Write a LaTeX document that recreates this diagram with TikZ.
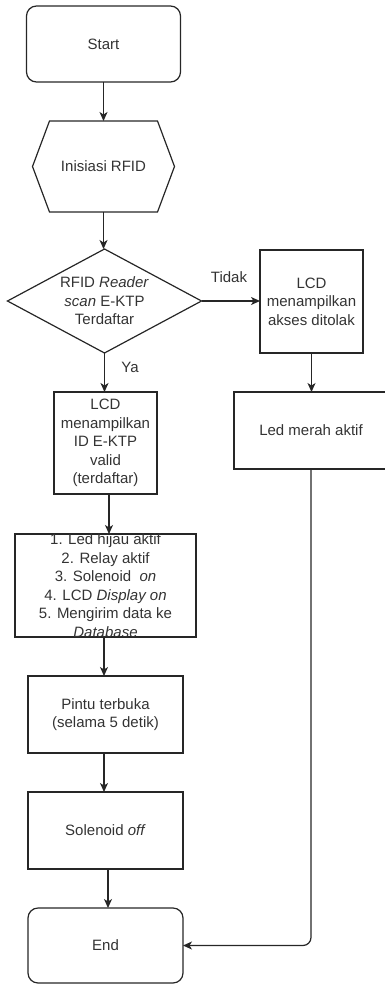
\documentclass[tikz,border=0pt]{standalone}
\usepackage{fontspec}
\setmainfont{Liberation Sans}
\usetikzlibrary{arrows.meta,calc}
\definecolor{ink}{HTML}{262626}
\definecolor{txt}{HTML}{333333}
\tikzset{
  base/.style={inner sep=0pt, outer sep=0pt, align=center, text=txt,
    font=\fontsize{15}{18.5}\selectfont},
  procbox/.style={base, draw=ink, line width=1.2pt, rectangle},
  termbox/.style={procbox, rounded corners=10pt},
  shapeholder/.style={base, draw=none, rectangle},
  outline/.style={draw=ink, line width=1.2pt, line join=miter},
  arr/.style={draw=ink, line width=1.2pt, -{Stealth[length=9pt,width=8pt,inset=2.5pt]}},
  lbl/.style={base}
}
\begin{document}
\begin{tikzpicture}[x=1pt,y=-1pt]
\useasboundingbox (0,0) rectangle (385,984);

% terminator and preparation
\node[termbox, minimum width=154pt, minimum height=76pt] (start) at (103.5,44) {Start};
\node[shapeholder, minimum width=142pt, minimum height=91pt] (init) at (103.5,166.5) {Inisiasi RFID};
\draw[outline] (init.west) -- ($(init.north west)+(17,0)$) -- ($(init.north east)+(-17,0)$)
  -- (init.east) -- ($(init.south east)+(-17,0)$) -- ($(init.south west)+(17,0)$) -- cycle;

% decision
\node[shapeholder, minimum width=194pt, minimum height=104pt] (dec) at (104.5,301)
  {RFID \textit{Reader}\\\textit{scan} E-KTP\\Terdaftar};
\draw[outline] (dec.north) -- (dec.east) -- (dec.south) -- (dec.west) -- cycle;

% rejected branch
\node[procbox, minimum width=103pt, minimum height=103pt] (tolak) at (311.5,301.5)
  {LCD\\menampilkan\\akses ditolak};
\node[procbox, minimum width=154pt, minimum height=77pt] (merah) at (311,430.5) {Led merah aktif};

% accepted branch
\node[procbox, minimum width=103pt, minimum height=102pt] (valid) at (105.5,443)
  {LCD\\menampilkan\\ID E-KTP\\valid\\(terdaftar)};
\node[procbox, minimum width=181pt, minimum height=103pt] (list) at (105.5,585.5) {};
\node[base] at (list.center) {1. Led hijau aktif\\2. Relay aktif\\3. Solenoid\ \ \textit{on}\\4. LCD \textit{Display on}\\5. Mengirim data ke\\\textit{Database}};
\node[procbox, minimum width=155pt, minimum height=77pt] (pintu) at (105.5,714.5)
  {Pintu terbuka\\(selama 5 detik)};
\node[procbox, minimum width=155pt, minimum height=77pt] (sol) at (105.5,830.5) {Solenoid \textit{off}};
\node[termbox, minimum width=155pt, minimum height=75pt] (end) at (105.5,945.5) {End};

% connectors
\draw[arr] (start.south) -- (start.south |- init.north);
\draw[arr] (init.south) -- (init.south |- dec.north);
\draw[arr] (dec.east) -- (dec.east -| tolak.west);
\draw[arr] (dec.south) -- (dec.south |- valid.north);
\draw[arr] (tolak.south) -- (tolak.south |- merah.north);
\draw[arr] ([xshift=3.5pt]valid.south) -- ([xshift=3.5pt]valid.south |- list.north);
\draw[arr] ([xshift=-1.5pt]list.south) -- ([xshift=-1.5pt]list.south |- pintu.north);
\draw[arr] ([xshift=-1.5pt]pintu.south) -- ([xshift=-1.5pt]pintu.south |- sol.north);
\draw[arr] ([xshift=2.5pt]sol.south) -- ([xshift=2.5pt]sol.south |- end.north);
\draw[arr, rounded corners=8pt] (merah.south) |- (end.east);

% branch labels
\node[lbl] (tidak) at (229,277) {Tidak};
\node[lbl] (ya) at (130,367) {Ya};
\end{tikzpicture}
\end{document}
